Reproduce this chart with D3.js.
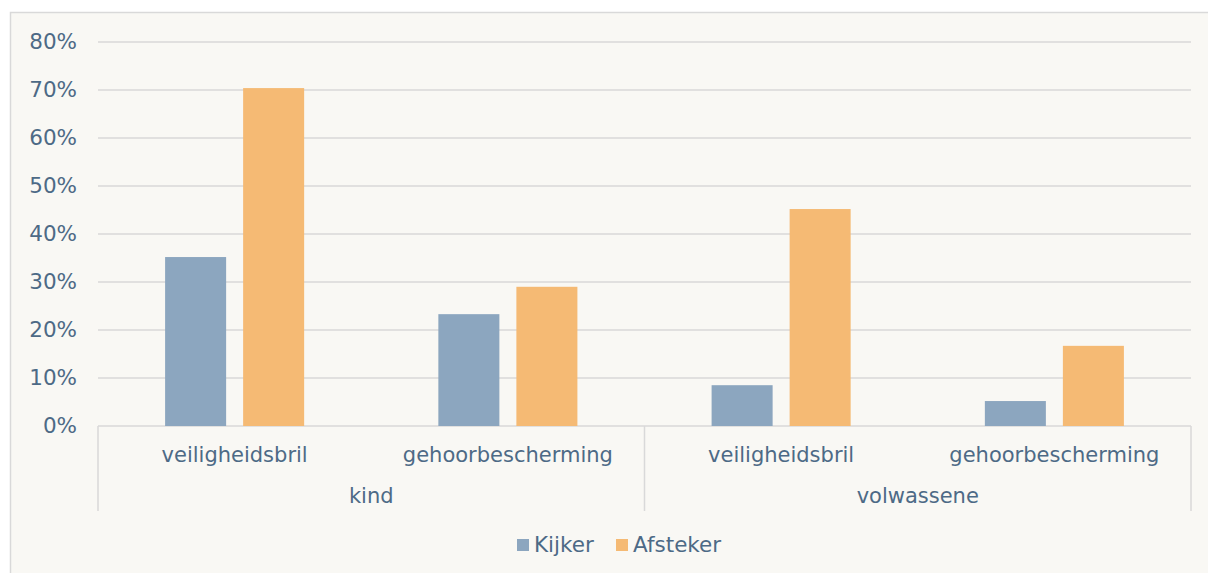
<!DOCTYPE html>
<html>
<head>
<meta charset="utf-8">
<script src="https://cdn.jsdelivr.net/npm/d3@7"></script>
<style>
  body { margin: 0; background: #fff; }
  svg { display: block; font-family: "DejaVu Sans", Verdana, sans-serif; }
</style>
</head>
<body>
<script>
// data
const groups = ["kind", "volwassene"];
const items = ["veiligheidsbril", "gehoorbescherming"];
const seriesNames = ["Kijker", "Afsteker"];
const kijker = [35.2, 23.3, 8.5, 5.2];
const afsteker = [70.4, 29.0, 45.2, 16.7];
const yTicks = [0, 10, 20, 30, 40, 50, 60, 70, 80];

const colors = ["#8ca6bf", "#f5ba74"];
const textColor = "#4d6a86";
const gridColor = "#d9d9d9";

const W = 1208, H = 573;
const mLeft = 98, mRight = 1191, mTop = 42, mBottom = 426;

const svg = d3.select("body").append("svg")
    .attr("width", W)
    .attr("height", H);

// chart box
svg.append("rect")
    .attr("x", 10.5).attr("y", 12.5)
    .attr("width", 1230).attr("height", 600)
    .attr("fill", "#f9f8f4")
    .attr("stroke", gridColor)
    .attr("stroke-width", 1.5);

const cats = [];
groups.forEach(g => items.forEach(it => cats.push(g + "|" + it)));

const x = d3.scaleBand()
    .domain(cats)
    .range([mLeft, mRight]);

const xInner = d3.scaleBand()
    .domain(seriesNames)
    .range([0, x.bandwidth()])
    .paddingInner(0.218)
    .paddingOuter(0.86);

const y = d3.scaleLinear()
    .domain([0, 80])
    .range([mBottom, mTop]);

// gridlines
svg.append("g")
    .selectAll("line")
    .data(yTicks)
    .enter()
    .append("line")
    .attr("x1", mLeft).attr("x2", mRight)
    .attr("y1", d => y(d)).attr("y2", d => y(d))
    .attr("stroke", gridColor)
    .attr("stroke-width", 1.5);

// y labels
const yAxis = d3.axisLeft(y)
    .tickValues(yTicks)
    .tickFormat(d => d + "%")
    .tickSize(0)
    .tickPadding(21);

const ya = svg.append("g")
    .attr("transform", "translate(" + mLeft + ",0)")
    .call(yAxis);
ya.select(".domain").remove();
ya.selectAll("text")
    .attr("fill", textColor)
    .style("font-size", "21.5px")
    .style("font-family", "DejaVu Sans, Verdana, sans-serif");

// bars
const rows = cats.map((c, i) => ({ cat: c, values: [kijker[i], afsteker[i]] }));

const cg = svg.append("g")
    .selectAll("g")
    .data(rows)
    .enter()
    .append("g")
    .attr("transform", d => "translate(" + x(d.cat) + ",0)");

cg.selectAll("rect")
    .data(d => d.values.map((v, j) => ({ s: seriesNames[j], v: v, j: j })))
    .enter()
    .append("rect")
    .attr("x", d => xInner(d.s))
    .attr("width", xInner.bandwidth())
    .attr("y", d => y(d.v))
    .attr("height", d => mBottom - y(d.v))
    .attr("fill", d => colors[d.j]);

// category labels
svg.append("g")
    .selectAll("text")
    .data(cats)
    .enter()
    .append("text")
    .attr("x", d => x(d) + x.bandwidth() / 2)
    .attr("y", 462)
    .attr("text-anchor", "middle")
    .attr("fill", textColor)
    .style("font-size", "21px")
    .text(d => d.split("|")[1]);

// group labels
svg.append("g")
    .selectAll("text")
    .data(groups)
    .enter()
    .append("text")
    .attr("x", (d, i) => x(d + "|" + items[0]) + x.bandwidth())
    .attr("y", 503)
    .attr("text-anchor", "middle")
    .attr("fill", textColor)
    .style("font-size", "21px")
    .text(d => d);

// separators
const seps = [mLeft, x(groups[1] + "|" + items[0]), mRight];
svg.append("g")
    .selectAll("line")
    .data(seps)
    .enter()
    .append("line")
    .attr("x1", d => d).attr("x2", d => d)
    .attr("y1", mBottom).attr("y2", 511)
    .attr("stroke", gridColor)
    .attr("stroke-width", 1.5);

// legend
const legendX = [517, 616];
const lg = svg.append("g")
    .selectAll("g")
    .data(seriesNames)
    .enter()
    .append("g")
    .attr("transform", (d, i) => "translate(" + legendX[i] + ",539)");

lg.append("rect")
    .attr("width", 12).attr("height", 12)
    .attr("fill", (d, i) => colors[i]);

lg.append("text")
    .attr("x", 17).attr("y", 13)
    .attr("fill", textColor)
    .style("font-size", "21.5px")
    .text(d => d);
</script>
</body>
</html>
